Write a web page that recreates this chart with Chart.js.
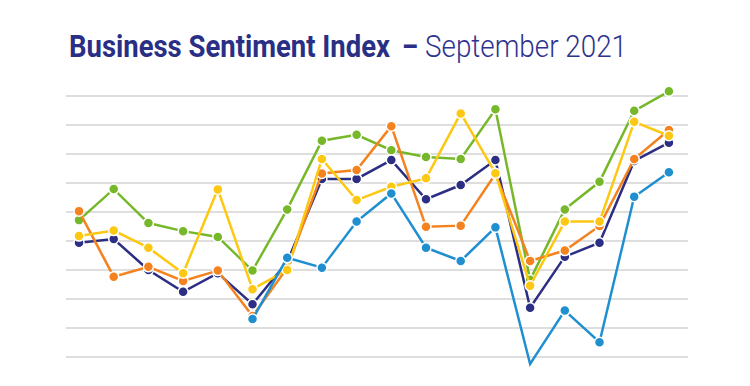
<!DOCTYPE html>
<html>
<head>
<meta charset="utf-8">
<script src="https://cdn.jsdelivr.net/npm/chart.js@4/dist/chart.umd.min.js"></script>
<style>
  html, body { margin: 0; padding: 0; background: #ffffff; }
  #wrap { position: relative; width: 750px; height: 386px; overflow: hidden; }
  #title { position: absolute; left: 0; top: 0; margin: 0; width: 750px; height: 80px;
           font-family: "Roboto", "Noto Sans", sans-serif; font-size: 32px; color: #2b3088;
           font-weight: normal; line-height: 1; }
  #title span { position: absolute; top: 29.8px; white-space: nowrap; transform-origin: 0 0; }
  #t1 { font-weight: bold; color: #2a2f86; }
  #t2 { font-weight: bold; color: #2a2f86; }
  #t3 { font-weight: 300; color: #2e3290; }
  canvas { position: absolute; left: 0; top: 0; }
</style>
</head>
<body>
<div id="wrap">
  <h1 id="title"><span id="t1" data-left="69" data-w="321">Business Sentiment Index</span><span id="t2" data-left="402" data-w="16">–</span><span id="t3" data-left="425" data-w="202">September 2021</span></h1>
  <canvas id="c" width="750" height="386"></canvas>
</div>
<script>
const periods = [0,1,2,3,4,5,6,7,8,9,10,11,12,13,14,15,16,17];
const seriesNames = ["Series A","Series B","Series C","Series D","Series E"];
const greenValues  = [4.72,5.79,4.62,4.34,4.14,2.98,5.09,7.46,7.66,7.13,6.90,6.83,8.54,2.66,5.09,6.04,8.49,9.16];
const navyValues   = [3.94,4.07,3.00,2.25,2.89,1.82,3.28,6.14,6.14,6.79,5.44,5.93,6.79,1.70,3.46,3.94,6.76,7.39];
const orangeValues = [5.03,2.77,3.11,2.62,2.98,1.41,3.07,6.33,6.45,7.96,4.49,4.53,6.31,3.31,3.67,4.52,6.83,7.83];
const yellowValues = [4.17,4.36,3.77,2.89,5.78,2.34,3.00,6.83,5.41,5.87,6.16,8.40,6.34,2.46,4.67,4.67,8.11,7.63];
const blueValues   = [null,null,null,null,null,1.31,3.42,3.08,4.67,5.64,3.77,3.31,4.47,-0.24,1.60,0.51,5.53,6.37];
const gridTicks = [0,1,2,3,4,5,6,7,8,9];

// fit title pieces horizontally
document.querySelectorAll('#title span').forEach(el => {
  const w = el.getBoundingClientRect().width;
  const target = parseFloat(el.dataset.w);
  el.style.left = el.dataset.left + 'px';
  el.style.transform = 'scaleX(' + (target / w) + ')';
});

function pts(vals) { return periods.map((p,i) => ({x:p, y:vals[i]})); }
function ds(label, vals, color) {
  return {
    label, data: pts(vals), borderColor: color, backgroundColor: color,
    pointBackgroundColor: color, pointBorderColor: '#ffffff',
    pointBorderWidth: 1.5, pointRadius: 5, borderWidth: 2.5,
    tension: 0, clip: false
  };
}

new Chart(document.getElementById('c'), {
  type: 'line',
  data: {
    datasets: [
      ds(seriesNames[4], blueValues,   '#1f8fd0'),
      ds(seriesNames[3], yellowValues, '#fcc812'),
      ds(seriesNames[2], orangeValues, '#f3821f'),
      ds(seriesNames[1], navyValues,   '#2b2e83'),
      ds(seriesNames[0], greenValues,  '#77b82b')
    ]
  },
  options: {
    responsive: false, animation: false,
    layout: { padding: { left: 66, right: 62, top: 96, bottom: 29 } },
    plugins: { legend: { display: false }, title: { display: false }, tooltip: { enabled: false } },
    scales: {
      x: { type: 'linear', min: -0.375, max: 17.55, display: false },
      y: {
        type: 'linear', min: 0, max: 9,
        afterBuildTicks: (axis) => { axis.ticks = gridTicks.map(v => ({value: v})); },
        ticks: { display: false },
        border: { display: false },
        grid: { color: '#dedede', lineWidth: 2, drawTicks: false }
      }
    }
  }
});
</script>
</body>
</html>
